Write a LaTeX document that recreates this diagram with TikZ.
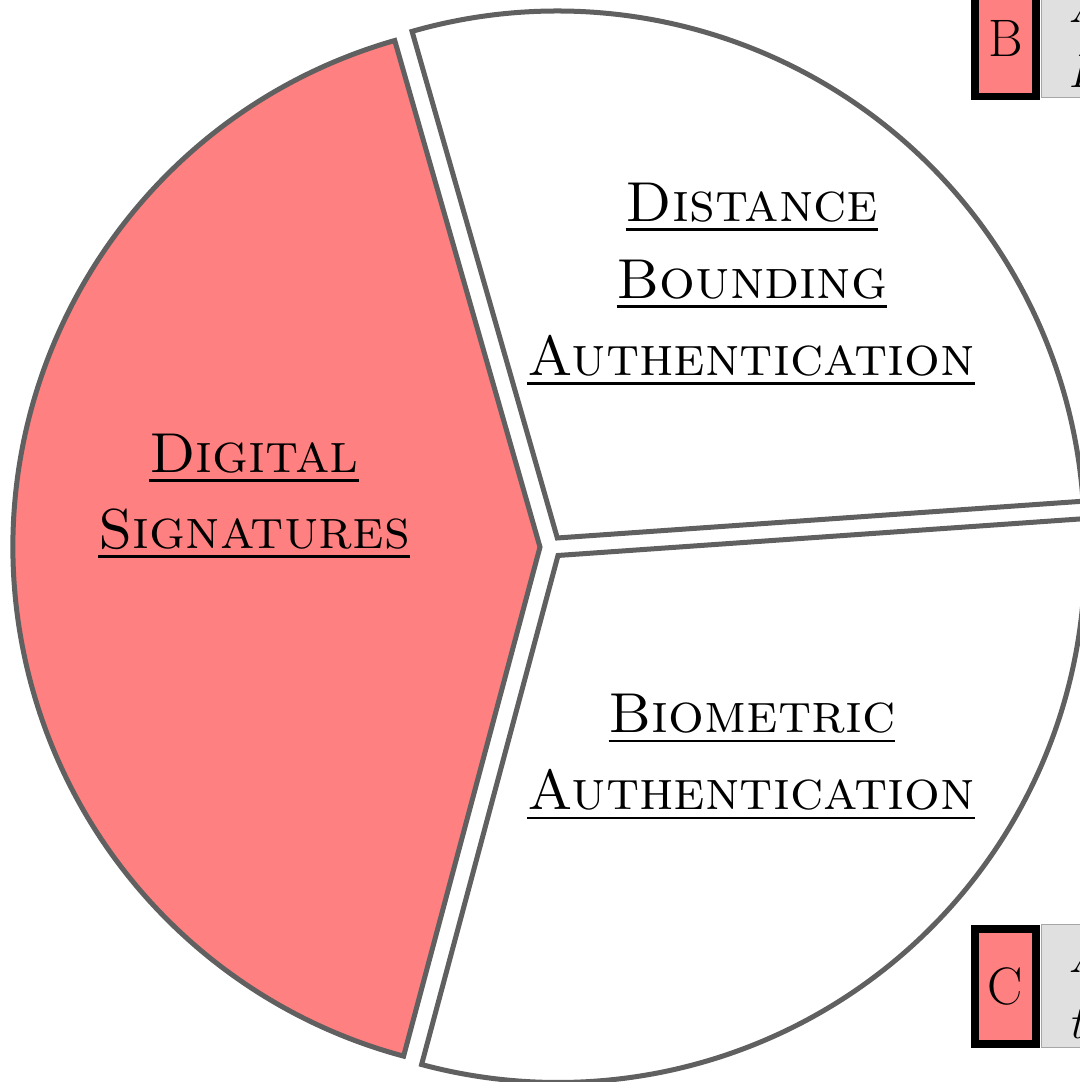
\documentclass[tikz,border=0pt]{standalone}
\usetikzlibrary{calc}
\definecolor{slicered}{HTML}{FF8080}
\definecolor{sliceline}{HTML}{606060}
\definecolor{legendgray}{HTML}{E0E0E0}
% underlined label with a slightly heavier rule
\newcommand\ulabel[1]{\sbox0{#1}\rlap{\rule[-2.7pt]{\wd0}{0.85pt}}\usebox0}
\begin{document}
\begin{tikzpicture}[x=0.01cm,y=0.01cm,
  slice/.style={draw=sliceline, line width=0.05cm, line join=miter},
  pielabel/.style={anchor=base, inner sep=0pt, font=\fontsize{16}{21.3}\selectfont},
  legkey/.style={draw=black, line width=0.075cm, fill=slicered, minimum width=0.61cm,
    minimum height=1.15cm, inner sep=0pt, font=\fontsize{15}{18}\selectfont},
  legfield/.style={fill=legendgray, draw=gray!70, line width=0.01cm},
  legtext/.style={anchor=base west, inner sep=0pt, font=\fontsize{13.5}{18}\selectfont\itshape}
]
\useasboundingbox (0,0) rectangle (1080,1082);
\clip (0,0) rectangle (1080,1082);

% pie centre, radius and explode distance
\coordinate (O) at (551,535);
\def\R{527}
\def\ex{11}

% slice vertices, each pushed out along its bisector
\coordinate (vDS) at ($(O)+(180.5:\ex)$);
\coordinate (vDB) at ($(O)+(55:\ex)$);
\coordinate (vBA) at ($(O)+(309.5:\ex)$);

% Digital Signatures (highlighted)
\draw[slice, fill=slicered] (vDS) -- ++(106:\R) arc[start angle=106, end angle=255, radius=\R] -- cycle;
% Distance Bounding Authentication
\draw[slice, fill=white] (vDB) -- ++(4:\R) arc[start angle=4, end angle=106, radius=\R] -- cycle;
% Biometric Authentication
\draw[slice, fill=white] (vBA) -- ++(255:\R) arc[start angle=255, end angle=364, radius=\R] -- cycle;

% slice labels
\node[pielabel] (ds1) at (254,609) {\ulabel{\textsc{Digital}}};
\node[pielabel] (ds2) at (254,533) {\ulabel{\textsc{Signatures}}};
\node[pielabel] (db1) at (752,860) {\ulabel{\textsc{Distance}}};
\node[pielabel] (db2) at (752,783) {\ulabel{\textsc{Bounding}}};
\node[pielabel] (db3) at (751,706) {\ulabel{\textsc{Authentication}}};
\node[pielabel] (ba1) at (752,349) {\ulabel{\textsc{Biometric}}};
\node[pielabel] (ba2) at (751,272) {\ulabel{\textsc{Authentication}}};

% legend entries
\fill[legfield] (1041,984) rectangle (1300,1110);
\node[legkey] (keyB) at (1005.5,1043) {B};
\node[legtext] (tB1) at (1068,1059) {Active attacks};
\node[legtext] (tB2) at (1068,994) {Prevention};

\fill[legfield] (1041,34) rectangle (1300,157);
\node[legkey] (keyC) at (1005.5,95.5) {C};
\node[legtext] (tC1) at (1068,109) {Authentication};
\node[legtext] (tC2) at (1068,44) {techniques};
\end{tikzpicture}
\end{document}
